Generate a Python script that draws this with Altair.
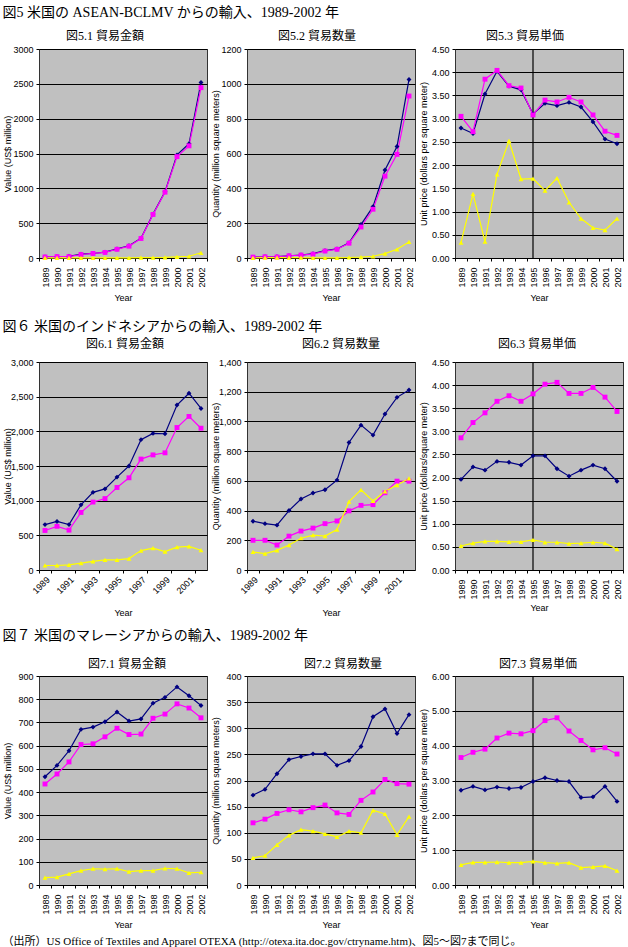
import altair as alt
import pandas as pd

years = [str(y) for y in range(1989, 2003)]
years_odd = ["1989", "1991", "1993", "1995", "1997", "1999", "2001"]
series_names = ["系列1", "系列2", "系列3"]
series_colors = ["#000080", "#FF00FF", "#FFFF00"]
series_shapes = ["diamond", "square", "triangle-up"]

# ---- 図5 ASEAN-BCLMV ----
v51_navy = [15, 20, 25, 55, 65, 85, 130, 175, 285, 630, 950, 1480, 1640, 2520]
v51_mag = [15, 20, 20, 50, 65, 80, 125, 170, 280, 625, 945, 1455, 1610, 2445]
v51_yel = [2, 3, 3, 3, 3, 2, 2, 2, 5, 5, 8, 15, 25, 75]
v52_navy = [5, 7, 8, 13, 17, 25, 42, 52, 87, 192, 295, 505, 640, 1025]
v52_mag = [5, 7, 6, 13, 17, 22, 40, 50, 85, 178, 280, 470, 595, 930]
v52_yel = [1, 2, 2, 2, 2, 1, 1, 1, 3, 5, 10, 25, 50, 92]
v53_navy = [2.80, 2.68, 3.53, 4.02, 3.70, 3.62, 3.10, 3.33, 3.28, 3.35, 3.25, 2.93, 2.56, 2.46]
v53_mag = [3.05, 2.72, 3.85, 4.04, 3.71, 3.66, 3.08, 3.40, 3.36, 3.46, 3.36, 3.08, 2.73, 2.64]
v53_yel = [0.33, 1.38, 0.35, 1.80, 2.52, 1.70, 1.71, 1.45, 1.72, 1.20, 0.85, 0.65, 0.60, 0.85]

# ---- 図6 インドネシア ----
v61_navy = [655, 700, 655, 940, 1120, 1170, 1340, 1500, 1880, 1970, 1965, 2380, 2550, 2330]
v61_mag = [570, 630, 575, 830, 980, 1030, 1190, 1330, 1600, 1660, 1690, 2055, 2215, 2045]
v61_yel = [65, 65, 75, 100, 125, 145, 145, 165, 280, 315, 265, 330, 340, 285]
v62_navy = [328, 312, 302, 400, 478, 518, 540, 605, 858, 975, 908, 1050, 1162, 1212]
v62_mag = [200, 200, 168, 228, 262, 282, 312, 330, 398, 435, 440, 520, 598, 598]
v62_yel = [122, 110, 132, 168, 214, 235, 228, 272, 460, 540, 465, 530, 572, 616]
v63_navy = [1.96, 2.23, 2.16, 2.35, 2.33, 2.27, 2.47, 2.47, 2.19, 2.03, 2.16, 2.27, 2.19, 1.92]
v63_mag = [2.86, 3.19, 3.40, 3.65, 3.77, 3.65, 3.81, 4.02, 4.06, 3.82, 3.82, 3.95, 3.74, 3.43]
v63_yel = [0.52, 0.58, 0.62, 0.62, 0.61, 0.61, 0.65, 0.60, 0.60, 0.57, 0.58, 0.60, 0.58, 0.45]

# ---- 図7 マレーシア ----
v71_navy = [466, 515, 578, 670, 680, 703, 745, 706, 715, 783, 808, 853, 815, 773]
v71_mag = [435, 478, 530, 605, 608, 638, 675, 648, 650, 718, 736, 780, 762, 720]
v71_yel = [32, 34, 48, 62, 70, 68, 70, 58, 62, 62, 72, 70, 52, 55]
v72_navy = [172, 183, 213, 240, 246, 251, 251, 229, 238, 265, 322, 337, 290, 326]
v72_mag = [119, 126, 137, 144, 140, 148, 153, 138, 135, 162, 178, 202, 194, 193]
v72_yel = [52, 56, 77, 95, 106, 103, 98, 92, 103, 100, 143, 136, 96, 131]
v73_navy = [2.72, 2.83, 2.73, 2.81, 2.77, 2.80, 2.97, 3.08, 3.00, 2.97, 2.51, 2.53, 2.83, 2.40]
v73_mag = [3.66, 3.81, 3.90, 4.22, 4.36, 4.34, 4.43, 4.72, 4.80, 4.42, 4.15, 3.88, 3.94, 3.76]
v73_yel = [0.58, 0.65, 0.65, 0.66, 0.64, 0.64, 0.68, 0.64, 0.62, 0.64, 0.50, 0.52, 0.55, 0.41]

# tick values
ticks_3000 = [0, 500, 1000, 1500, 2000, 2500, 3000]
ticks_1200 = [0, 200, 400, 600, 800, 1000, 1200]
ticks_1400 = [0, 200, 400, 600, 800, 1000, 1200, 1400]
ticks_450 = [0, 0.5, 1.0, 1.5, 2.0, 2.5, 3.0, 3.5, 4.0, 4.5]
ticks_900 = [0, 100, 200, 300, 400, 500, 600, 700, 800, 900]
ticks_400 = [0, 50, 100, 150, 200, 250, 300, 350, 400]
ticks_600 = [0, 1, 2, 3, 4, 5, 6]

row_titles = [
    "図5  米国の ASEAN-BCLMV からの輸入、1989-2002 年",
    "図６  米国のインドネシアからの輸入、1989-2002 年",
    "図７  米国のマレーシアからの輸入、1989-2002 年",
]
source_text = "（出所）US Office of Textiles and Apparel OTEXA (http://otexa.ita.doc.gov/ctryname.htm)、図5～図7まで同じ。"

SERIF = "Liberation Serif, Noto Sans CJK JP"
SANS = "Liberation Sans Narrow, Liberation Sans, DejaVu Sans"
PW = 168


def make_panel(title, navy, mag, yel, ticks, fmt, ytitle, height, angled=False, vline=False,
               xpad=6, tdx=0, toff=2):
    rows = []
    for name, vals in zip(series_names, [navy, mag, yel]):
        for yr, v in zip(years, vals):
            rows.append({"year": yr, "series": name, "value": v})
    df = pd.DataFrame(rows)
    if angled:
        xaxis = alt.Axis(values=years_odd, labelAngle=315, title="Year", titlePadding=xpad,
                         tickBand="extent", tickSize=3, labelPadding=2)
    else:
        xaxis = alt.Axis(labelAngle=270, title="Year", titlePadding=xpad,
                         tickBand="extent", tickSize=3, labelPadding=6)
    xscale = alt.Scale(type="band", domain=years, paddingInner=0, paddingOuter=0)
    x = alt.X("year:O", scale=xscale, bandPosition=0.5, axis=xaxis)
    y = alt.Y("value:Q", scale=alt.Scale(domain=[ticks[0], ticks[-1]], nice=False, zero=True),
              axis=alt.Axis(values=ticks, format=fmt, title=ytitle, minExtent=24, maxExtent=24,
                            titlePadding=3, tickSize=3, labelPadding=3))
    color = alt.Color("series:N", scale=alt.Scale(domain=series_names, range=series_colors), legend=None)
    shape = alt.Shape("series:N", scale=alt.Scale(domain=series_names, range=series_shapes), legend=None)
    base = alt.Chart(df)
    layers = []
    if vline:
        vdf = pd.DataFrame({"year": ["1995"]})
        layers.append(alt.Chart(vdf).mark_rule(color="black", strokeWidth=1.2).encode(
            x=alt.X("year:O", scale=xscale, bandPosition=0.5, axis=xaxis)))
    layers.append(base.mark_line(strokeWidth=1.2).encode(x=x, y=y, color=color, detail="series:N"))
    layers.append(base.mark_point(filled=True, opacity=1, size=24, strokeWidth=0).encode(
        x=x, y=y, color=color, shape=shape))
    return alt.layer(*layers).properties(
        width=PW, height=height,
        title=alt.TitleParams(title, font=SERIF, fontSize=12, fontWeight="normal",
                              color="black", offset=toff, anchor="middle", frame="group", dx=tdx))


p51 = make_panel("図5.1  貿易金額", v51_navy, v51_mag, v51_yel, ticks_3000, "d",
                 "Value (US$ million)", 209, tdx=-18)
p52 = make_panel("図5.2 貿易数量", v52_navy, v52_mag, v52_yel, ticks_1200, "d",
                 "Quantity (million square meters)", 209, tdx=-14)
p53 = make_panel("図5.3  貿易単価", v53_navy, v53_mag, v53_yel, ticks_450, ".2f",
                 "Unit price (dollars per square meter)", 209, vline=True, tdx=-14)

p61 = make_panel("図6.1 貿易金額", v61_navy, v61_mag, v61_yel, ticks_3000, ",d",
                 "Value (US$ million)", 208, angled=True, xpad=13, tdx=2, toff=7)
p62 = make_panel("図6.2 貿易数量", v62_navy, v62_mag, v62_yel, ticks_1400, ",d",
                 "Quantity (million square meters)", 208, angled=True, xpad=13, tdx=10, toff=7)
p63 = make_panel("図6.3 貿易単価", v63_navy, v63_mag, v63_yel, ticks_450, ".2f",
                 "Unit price (dollars/square meter)", 208, vline=True, xpad=4, tdx=-2, toff=7)

p71 = make_panel("図7.1  貿易金額", v71_navy, v71_mag, v71_yel, ticks_900, "d",
                 "Value (US$ million)", 209, tdx=4, toff=1)
p72 = make_panel("図7.2 貿易数量", v72_navy, v72_mag, v72_yel, ticks_400, "d",
                 "Quantity (million square meters)", 209, tdx=12, toff=1)
p73 = make_panel("図7.3 貿易単価", v73_navy, v73_mag, v73_yel, ticks_600, ".2f",
                 "Unit price (dollars per square meter)", 209, vline=True, tdx=-1, toff=1)


def row(panels, ttl, off):
    return alt.hconcat(*panels, spacing=40, bounds="flush",
                       title=alt.TitleParams(ttl, font=SERIF, fontSize=14, fontWeight="normal",
                                             color="black", anchor="start", offset=off))


top_rows = alt.vconcat(
    row([p51, p52, p53], row_titles[0], 10),
    row([p61, p62, p63], row_titles[1], 4),
    spacing=16,
)

chart = alt.vconcat(
    top_rows,
    row([p71, p72, p73], row_titles[2], 15),
    spacing=9,
    title=alt.TitleParams(source_text, orient="bottom", anchor="start", font=SERIF,
                          fontSize=11, fontWeight="normal", color="black", offset=6),
).properties(
    padding={"left": 2, "top": 5, "right": 2, "bottom": 2},
    background="white",
).configure_view(
    fill="#C0C0C0", stroke="#333333", strokeWidth=1,
).configure_axis(
    labelFont=SANS, labelFontSize=9, labelColor="black",
    titleFont=SANS, titleFontSize=9, titleFontWeight="normal", titleColor="black",
    tickColor="black", gridColor="black", gridOpacity=1, gridWidth=1, domain=False,
).configure_axisX(grid=False)

chart.save("out.html", embed_options={"renderer": "svg", "actions": False})
